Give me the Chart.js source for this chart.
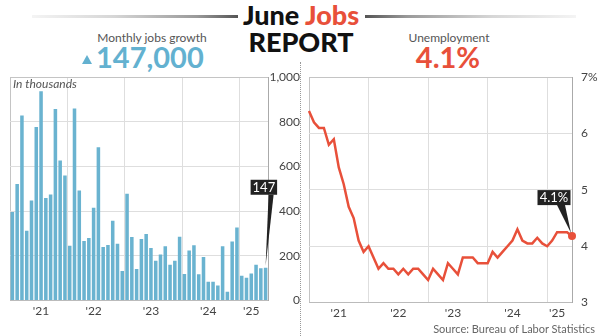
<!DOCTYPE html>
<html>
<head>
<meta charset="utf-8">
<script src="https://cdn.jsdelivr.net/npm/chart.js@4/dist/chart.umd.min.js"></script>
<style>
  html, body { margin: 0; padding: 0; background: #fff; }
  body { width: 600px; height: 336px; position: relative; overflow: hidden; font-family: Lato, "Open Sans", sans-serif; }
  .abs { position: absolute; white-space: nowrap; line-height: 1.2; }
  .big { font-size: 27px; font-weight: 900; color: #111; }
  .sub { font-size: 12px; color: #555; }
  .num { font-size: 29px; font-weight: 700; }
  .rule { position: absolute; top: 15px; height: 3px; }
  canvas { position: absolute; }
</style>
</head>
<body>
<div class="rule" style="left:32px;width:206px;background:linear-gradient(to right,#f4f4f4,#d6d6d6 40%,#9a9a9a 80%,#555);"></div>
<div class="rule" style="left:365px;width:211px;background:linear-gradient(to left,#f4f4f4,#d6d6d6 40%,#9a9a9a 80%,#555);"></div>
<div class="abs big" style="left:0;width:602px;top:-1px;text-align:center;">June <span style="color:#e8503a">Jobs</span></div>
<div class="abs big" style="left:0;width:602px;top:26px;text-align:center;">REPORT</div>

<div class="abs sub" style="left:52px;width:200px;top:31px;text-align:center;">Monthly jobs growth</div>
<div style="position:absolute;left:82px;top:55px;width:0;height:0;border-left:5.5px solid transparent;border-right:5.5px solid transparent;border-bottom:9px solid #63b1d0;"></div>
<div class="abs num" style="left:96px;top:40px;color:#63b1d0;">147,000</div>

<div class="abs sub" style="left:349px;width:200px;top:31px;text-align:center;">Unemployment</div>
<div class="abs num" style="left:348px;width:200px;top:40px;text-align:center;color:#e8503a;">4.1%</div>

<div style="position:absolute;left:300px;top:62px;height:274px;border-left:1px dotted #999;"></div>

<canvas id="jobsChart" width="300" height="251" style="left:0;top:70px;"></canvas>
<canvas id="rateChart" width="300" height="253" style="left:300px;top:70px;"></canvas>

<div class="abs" style="left:13px;top:77px;font-size:12px;font-style:italic;color:#555;">In thousands</div>
<div class="abs" style="right:5px;top:322px;font-size:11px;color:#666;">Source: Bureau of Labor Statistics</div>

<script>
// Jan 2021 .. Jun 2025
const years = ['2021', '2022', '2023', '2024', '2025'];
const monthNames = ['Jan', 'Feb', 'Mar', 'Apr', 'May', 'Jun', 'Jul', 'Aug', 'Sep', 'Oct', 'Nov', 'Dec'];
const months = [];
years.forEach(y => monthNames.forEach(m => months.push(m + ' ' + y)));
months.length = 54;

// monthly jobs change, thousands
const jobs = [
  397, 522, 829, 313, 448, 777, 937, 459, 475, 858, 627, 560,
  246, 860, 493, 267, 280, 416, 686, 240, 249, 357, 254, 133,
  478, 285, 142, 276, 298, 236, 178, 206, 243, 161, 178, 286,
  119, 224, 248, 118, 195, 84, 84, 68, 243, 40, 264, 327,
  111, 102, 121, 161, 145, 147
];

// unemployment rate, %
const unemployment = [
  6.4, 6.2, 6.1, 6.1, 5.8, 5.9, 5.4, 5.1, 4.7, 4.5, 4.1, 3.9,
  4.0, 3.8, 3.6, 3.7, 3.6, 3.6, 3.5, 3.6, 3.5, 3.6, 3.6, 3.5,
  3.4, 3.6, 3.5, 3.4, 3.7, 3.6, 3.5, 3.8, 3.8, 3.8, 3.7, 3.7,
  3.7, 3.9, 3.8, 3.9, 4.0, 4.1, 4.3, 4.1, 4.05, 4.05, 4.15, 4.05,
  4.0, 4.1, 4.25, 4.25, 4.25, 4.18
];

const yearLabels = ["'21", "'22", "'23", "'24", "'25"];
const barLabelAt = [6, 17, 29, 41, 50];
const lineLabelAt = [6, 18, 29, 41, 50];
const jobsTicks = [0, 200, 400, 600, 800, 1000];
const rateTicks = [3, 4, 5, 6, 7];
const rateLabel = '4.1%';

const tickFont = { family: 'Lato', size: 12 };

// dark label box with a pointer to the last mark
const calloutPlugin = {
  id: 'callout',
  afterDatasetsDraw(chart, args, o) {
    const meta = chart.getDatasetMeta(0);
    const el = meta.data[meta.data.length - 1];
    const ctx = chart.ctx;
    const x = el.x, y = el.y;
    const top = y + o.boxBottom - 15;
    ctx.save();
    ctx.fillStyle = '#222';
    ctx.fillRect(x + o.boxLeft, top, o.boxRight - o.boxLeft, 15);
    ctx.beginPath();
    ctx.moveTo(x + o.baseL, y + o.boxBottom);
    ctx.lineTo(x + o.baseR, y + o.boxBottom);
    ctx.lineTo(x + o.tipDx, y + o.tipDy);
    ctx.closePath();
    ctx.fill();
    ctx.fillStyle = '#fff';
    ctx.font = '13px Lato';
    ctx.textAlign = 'center';
    ctx.textBaseline = 'middle';
    ctx.fillText(o.text, x + (o.boxLeft + o.boxRight) / 2, top + 8);
    ctx.restore();
  }
};

function yearGrid(c) {
  if (c.index === undefined || c.index % 12 !== 0) return 'rgba(0,0,0,0)';
  return c.index === 0 ? '#c4c4c4' : '#dedede';
}

new Chart(document.getElementById('jobsChart'), {
  type: 'bar',
  data: {
    labels: months,
    datasets: [{
      data: jobs,
      backgroundColor: '#6ab3d0',
      barPercentage: 0.74,
      categoryPercentage: 1
    }]
  },
  options: {
    responsive: false,
    animation: false,
    layout: { autoPadding: false, padding: { left: 10, right: 0, top: 0, bottom: 0 } },
    plugins: {
      legend: { display: false },
      tooltip: { enabled: false },
      callout: { text: String(jobs[jobs.length - 1]), boxLeft: -15, boxRight: 11.5, boxBottom: -73, baseL: 3, baseR: 8, tipDx: 0, tipDy: -2 }
    },
    scales: {
      x: {
        offset: true,
        grid: { offset: true, color: yearGrid, drawTicks: false },
        border: { color: '#bbb' },
        ticks: {
          autoSkip: false, maxRotation: 0, minRotation: 0, padding: 3, color: '#444', font: tickFont,
          callback: (v, i) => { const k = barLabelAt.indexOf(i); return k < 0 ? '' : yearLabels[k]; }
        }
      },
      y: {
        position: 'right',
        min: 0, max: 1000,
        afterBuildTicks: s => { s.ticks = jobsTicks.map(v => ({ value: v })); },
        afterFit: s => { s.width = 32; },
        grid: { color: c => (c.tick && c.tick.value === 1000 ? '#c4c4c4' : '#dedede'), drawTicks: true, tickLength: 2, tickColor: 'rgba(0,0,0,0)' },
        border: { color: '#aaa' },
        ticks: { padding: 0, crossAlign: 'far', color: '#444', font: tickFont, callback: v => v.toLocaleString('en-US') }
      }
    }
  },
  plugins: [calloutPlugin]
});

new Chart(document.getElementById('rateChart'), {
  type: 'line',
  data: {
    labels: months,
    datasets: [{
      data: unemployment,
      borderColor: '#e8503a',
      backgroundColor: '#e8503a',
      borderWidth: 2.5,
      tension: 0,
      clip: false,
      pointRadius: c => (c.dataIndex === unemployment.length - 1 ? 4 : 0),
      pointBorderWidth: 0
    }]
  },
  options: {
    responsive: false,
    animation: false,
    layout: { autoPadding: false, padding: { left: 9, right: 0, top: 0, bottom: 0 } },
    plugins: {
      legend: { display: false },
      tooltip: { enabled: false },
      callout: { text: rateLabel, boxLeft: -34.5, boxRight: -1.5, boxBottom: -31, baseL: -15, baseR: -7, tipDx: -1, tipDy: -3 }
    },
    scales: {
      x: {
        offset: false,
        grid: { color: yearGrid, drawTicks: false },
        border: { color: '#bbb' },
        ticks: {
          autoSkip: false, maxRotation: 0, minRotation: 0, padding: 3, color: '#444', font: tickFont,
          callback: (v, i) => { const k = lineLabelAt.indexOf(i); return k < 0 ? '' : yearLabels[k]; }
        }
      },
      y: {
        position: 'right',
        min: 3, max: 7,
        afterBuildTicks: s => { s.ticks = rateTicks.map(v => ({ value: v })); },
        afterFit: s => { s.width = 28; },
        grid: { color: c => (c.tick && c.tick.value === 7 ? '#c4c4c4' : '#dedede'), drawTicks: true, tickLength: 9, tickColor: 'rgba(0,0,0,0)' },
        border: { color: '#aaa' },
        ticks: { padding: 0, crossAlign: 'near', color: '#444', font: tickFont, callback: v => (v === 7 ? '7%' : String(v)) }
      }
    }
  },
  plugins: [calloutPlugin]
});
</script>
</body>
</html>
